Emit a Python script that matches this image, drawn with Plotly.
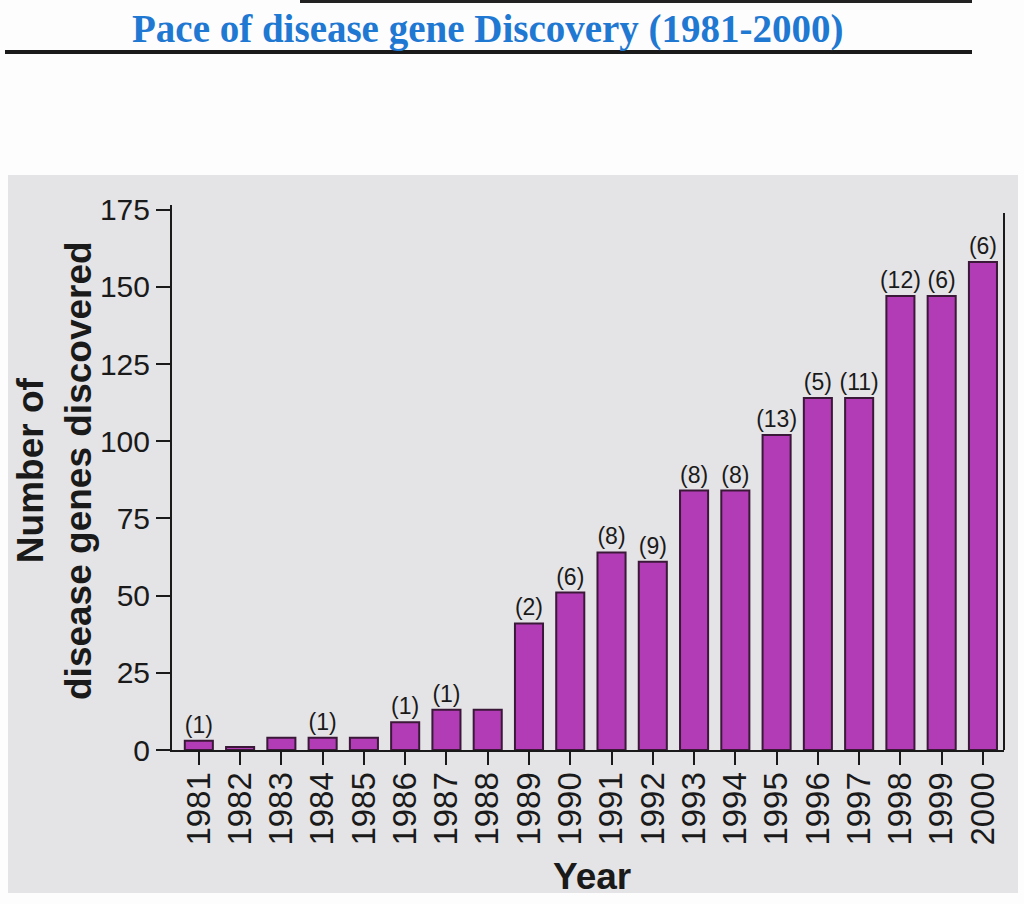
import plotly.graph_objects as go

# ---- data ----
years = [str(y) for y in range(1981, 2001)]
genes = [3, 1, 4, 4, 4, 9, 13, 13, 41, 51, 64, 61, 84, 84, 102, 114, 114, 147, 147, 158]
bar_labels = ["(1)", "", "", "(1)", "", "(1)", "(1)", "", "(2)", "(6)", "(8)", "(9)",
              "(8)", "(8)", "(13)", "(5)", "(11)", "(12)", "(6)", "(6)"]
y_ticks = [0, 25, 50, 75, 100, 125, 150, 175]

W, H = 1024, 904
def px(x):
    return x / W
def py(y):
    return 1 - y / H

SANS = "Liberation Sans, Arial, Helvetica, sans-serif"

fig = go.Figure()
fig.add_trace(go.Bar(
    x=years, y=genes,
    text=bar_labels, textposition="outside", constraintext="none",
    cliponaxis=False,
    textfont=dict(family=SANS, size=23, color="#1a1a1a"),
    marker=dict(color="#b23cb6", line=dict(color="#3a1838", width=2)),
    width=0.68,
))

shapes = [
    # gray panel
    dict(type="rect", xref="paper", yref="paper", x0=px(8), x1=px(1018),
         y0=py(893), y1=py(175), fillcolor="#e4e3e6", line=dict(width=0), layer="below"),
    # header rules
    dict(type="line", xref="paper", yref="paper", x0=px(300), x1=px(972),
         y0=py(1.5), y1=py(1.5), line=dict(color="#222222", width=3)),
    dict(type="line", xref="paper", yref="paper", x0=px(5), x1=px(972),
         y0=py(52), y1=py(52), line=dict(color="#1a1a1a", width=4)),
    # right border line of plot
    dict(type="line", xref="x domain", yref="paper", x0=1, x1=1,
         y0=py(750), y1=py(213), line=dict(color="#1a1a1a", width=2)),
]

annotations = [
    dict(text="<b>Pace of disease gene Discovery (1981-2000)</b>", xref="paper", yref="paper",
         x=px(488), y=py(29), xanchor="center", yanchor="middle", showarrow=False,
         font=dict(family="Liberation Serif, Times New Roman, serif", size=39, color="#1f78d1")),
    dict(text="<b>Number of<br>disease genes discovered</b>", xref="paper", yref="paper",
         x=px(54), y=py(471), xanchor="center", yanchor="middle", textangle=-90,
         showarrow=False, font=dict(family=SANS, size=37, color="#1a1a1a")),
    dict(text="<b>Year</b>", xref="paper", yref="paper",
         x=px(592), y=py(876), xanchor="center", yanchor="middle", showarrow=False,
         font=dict(family=SANS, size=37, color="#1a1a1a")),
]

fig.update_layout(
    template="none",
    width=W, height=H,
    autosize=False,
    margin=dict(l=0, r=0, t=0, b=0, pad=0),
    paper_bgcolor="#fdfdfe",
    plot_bgcolor="rgba(0,0,0,0)",
    showlegend=False,
    shapes=shapes,
    annotations=annotations,
    xaxis=dict(
        type="category", domain=[px(172), px(1004)], range=[-0.65, 19.51],
        automargin=False,
        showline=True, linecolor="#1a1a1a", linewidth=2,
        ticks="outside", ticklen=13, tickwidth=2, tickcolor="#1a1a1a",
        ticklabelstandoff=-6,
        tickangle=-90, tickfont=dict(family=SANS, size=33, color="#1a1a1a"),
        showgrid=False, zeroline=False, anchor="y",
    ),
    yaxis=dict(
        domain=[py(750), py(205)], range=[0, 176.5],
        automargin=False,
        tickvals=y_ticks, ticktext=[str(v) for v in y_ticks],
        showline=True, linecolor="#1a1a1a", linewidth=2,
        ticks="outside", ticklen=14, tickwidth=2, tickcolor="#1a1a1a",
        tickfont=dict(family=SANS, size=30, color="#1a1a1a"),
        showgrid=False, zeroline=False, anchor="x",
    ),
)

fig.write_html(
    "out.html",
    config={"displayModeBar": False},
    post_script="document.body.style.margin='0';document.body.style.overflow='hidden';",
)
